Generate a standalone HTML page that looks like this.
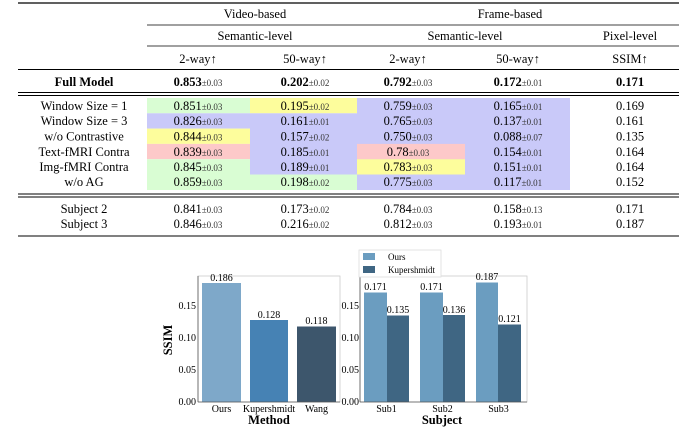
<!DOCTYPE html>
<html><head><meta charset="utf-8"><style>
html,body{margin:0;padding:0;background:#fff;}
svg{display:block;font-family:"Liberation Serif",serif;}
</style></head><body>
<svg width="679" height="430" viewBox="0 0 679 430" xmlns="http://www.w3.org/2000/svg">
<g>
<rect x="147" y="98" width="103" height="15.3" fill="#d9fdd3"/>
<rect x="250" y="98" width="107" height="15.3" fill="#fdfd9c"/>
<rect x="357" y="98" width="213" height="92" fill="#c9c9f9"/>
<rect x="147" y="113.3" width="103" height="15.3" fill="#c9c9f9"/>
<rect x="250" y="113.3" width="107" height="61.2" fill="#c9c9f9"/>
<rect x="147" y="128.6" width="103" height="15.3" fill="#fdfd9c"/>
<rect x="147" y="143.9" width="103" height="15.3" fill="#fdc9c9"/>
<rect x="357" y="143.9" width="108" height="15.3" fill="#fdc9c9"/>
<rect x="147" y="159.2" width="103" height="30.8" fill="#d9fdd3"/>
<rect x="357" y="159.2" width="108" height="15.3" fill="#fdfd9c"/>
<rect x="250" y="174.5" width="107" height="15.5" fill="#d9fdd3"/>
</g>
<g stroke="#000">
<line x1="18" y1="3" x2="679" y2="3" stroke-width="1.2"/>
<line x1="147" y1="25" x2="679" y2="25" stroke-width="0.8"/>
<line x1="147" y1="46" x2="679" y2="46" stroke-width="0.8"/>
<line x1="18" y1="69.5" x2="679" y2="69.5" stroke-width="1"/>
<line x1="18" y1="92.5" x2="679" y2="92.5" stroke-width="1"/>
<line x1="18" y1="95.5" x2="679" y2="95.5" stroke-width="1"/>
<line x1="18" y1="194" x2="679" y2="194" stroke-width="1"/>
<line x1="18" y1="197" x2="679" y2="197" stroke-width="1"/>
<line x1="18" y1="236" x2="679" y2="236" stroke-width="1"/>
</g>
<g font-size="12.5" text-anchor="middle" fill="#000">
<text x="255" y="18">Video-based</text>
<text x="510" y="18">Frame-based</text>
<text x="255" y="40">Semantic-level</text>
<text x="465" y="40">Semantic-level</text>
<text x="630" y="40">Pixel-level</text>
<text x="198" y="63">2-way↑</text>
<text x="305" y="63">50-way↑</text>
<text x="408" y="63">2-way↑</text>
<text x="518" y="63">50-way↑</text>
<text x="630" y="63">SSIM↑</text>
<g font-weight="bold"><text x="84" y="86">Full Model</text><text x="630" y="86">0.171</text></g>
<text x="198" y="86"><tspan font-weight="bold">0.853</tspan><tspan font-size="9" fill="#333">±0.03</tspan></text>
<text x="305" y="86"><tspan font-weight="bold">0.202</tspan><tspan font-size="9" fill="#333">±0.02</tspan></text>
<text x="408" y="86"><tspan font-weight="bold">0.792</tspan><tspan font-size="9" fill="#333">±0.03</tspan></text>
<text x="518" y="86"><tspan font-weight="bold">0.172</tspan><tspan font-size="9" fill="#333">±0.01</tspan></text>
</g>
<g font-size="12.5" text-anchor="middle" fill="#000">
<text x="84" y="110">Window Size = 1</text>
<text x="198" y="110">0.851<tspan font-size="9" fill="#333">±0.03</tspan></text>
<text x="305" y="110">0.195<tspan font-size="9" fill="#333">±0.02</tspan></text>
<text x="408" y="110">0.759<tspan font-size="9" fill="#333">±0.03</tspan></text>
<text x="518" y="110">0.165<tspan font-size="9" fill="#333">±0.01</tspan></text>
<text x="630" y="110">0.169</text>
<text x="84" y="125">Window Size = 3</text>
<text x="198" y="125">0.826<tspan font-size="9" fill="#333">±0.03</tspan></text>
<text x="305" y="125">0.161<tspan font-size="9" fill="#333">±0.01</tspan></text>
<text x="408" y="125">0.765<tspan font-size="9" fill="#333">±0.03</tspan></text>
<text x="518" y="125">0.137<tspan font-size="9" fill="#333">±0.01</tspan></text>
<text x="630" y="125">0.161</text>
<text x="84" y="140.5">w/o Contrastive</text>
<text x="198" y="140.5">0.844<tspan font-size="9" fill="#333">±0.03</tspan></text>
<text x="305" y="140.5">0.157<tspan font-size="9" fill="#333">±0.02</tspan></text>
<text x="408" y="140.5">0.750<tspan font-size="9" fill="#333">±0.03</tspan></text>
<text x="518" y="140.5">0.088<tspan font-size="9" fill="#333">±0.07</tspan></text>
<text x="630" y="140.5">0.135</text>
<text x="84" y="156">Text-fMRI Contra</text>
<text x="198" y="156">0.839<tspan font-size="9" fill="#333">±0.03</tspan></text>
<text x="305" y="156">0.185<tspan font-size="9" fill="#333">±0.01</tspan></text>
<text x="408" y="156">0.78<tspan font-size="9" fill="#333">±0.03</tspan></text>
<text x="518" y="156">0.154<tspan font-size="9" fill="#333">±0.01</tspan></text>
<text x="630" y="156">0.164</text>
<text x="84" y="171">Img-fMRI Contra</text>
<text x="198" y="171">0.845<tspan font-size="9" fill="#333">±0.03</tspan></text>
<text x="305" y="171">0.189<tspan font-size="9" fill="#333">±0.01</tspan></text>
<text x="408" y="171">0.783<tspan font-size="9" fill="#333">±0.03</tspan></text>
<text x="518" y="171">0.151<tspan font-size="9" fill="#333">±0.01</tspan></text>
<text x="630" y="171">0.164</text>
<text x="84" y="186">w/o AG</text>
<text x="198" y="186">0.859<tspan font-size="9" fill="#333">±0.03</tspan></text>
<text x="305" y="186">0.198<tspan font-size="9" fill="#333">±0.02</tspan></text>
<text x="408" y="186">0.775<tspan font-size="9" fill="#333">±0.03</tspan></text>
<text x="518" y="186">0.117<tspan font-size="9" fill="#333">±0.01</tspan></text>
<text x="630" y="186">0.152</text>
<text x="84" y="213">Subject 2</text>
<text x="198" y="213">0.841<tspan font-size="9" fill="#333">±0.03</tspan></text>
<text x="305" y="213">0.173<tspan font-size="9" fill="#333">±0.02</tspan></text>
<text x="408" y="213">0.784<tspan font-size="9" fill="#333">±0.03</tspan></text>
<text x="518" y="213">0.158<tspan font-size="9" fill="#333">±0.13</tspan></text>
<text x="630" y="213">0.171</text>
<text x="84" y="228">Subject 3</text>
<text x="198" y="228">0.846<tspan font-size="9" fill="#333">±0.03</tspan></text>
<text x="305" y="228">0.216<tspan font-size="9" fill="#333">±0.02</tspan></text>
<text x="408" y="228">0.812<tspan font-size="9" fill="#333">±0.03</tspan></text>
<text x="518" y="228">0.193<tspan font-size="9" fill="#333">±0.01</tspan></text>
<text x="630" y="228">0.187</text>
</g>
<g>
<rect x="198" y="276" width="142" height="126" fill="none" stroke="#ccc" stroke-width="0.8"/>
<rect x="202" y="283" width="39" height="119" fill="#7ea8c9"/>
<rect x="250" y="320" width="38" height="82" fill="#4682b4"/>
<rect x="297" y="326.5" width="39" height="75.5" fill="#3d566c"/>
<line x1="198" y1="276" x2="198" y2="402" stroke="#555" stroke-width="0.8"/>
<line x1="198" y1="402" x2="340" y2="402" stroke="#555" stroke-width="0.8"/>
<rect x="360" y="276" width="167" height="126" fill="none" stroke="#ccc" stroke-width="0.8"/>
<rect x="364" y="292.5" width="23" height="109.5" fill="#6b9dc0"/>
<rect x="387" y="315.5" width="22" height="86.5" fill="#3f6683"/>
<rect x="420" y="292.5" width="23" height="109.5" fill="#6b9dc0"/>
<rect x="443" y="315" width="22" height="87" fill="#3f6683"/>
<rect x="476" y="282.5" width="22" height="119.5" fill="#6b9dc0"/>
<rect x="498" y="324.5" width="23" height="77.5" fill="#3f6683"/>
<line x1="360" y1="276" x2="360" y2="402" stroke="#555" stroke-width="0.8"/>
<line x1="360" y1="402" x2="527" y2="402" stroke="#555" stroke-width="0.8"/>
<rect x="359" y="250" width="82" height="27" fill="#fff" stroke="#ddd" stroke-width="0.8"/>
<rect x="363" y="253" width="12" height="7" fill="#6b9dc0"/>
<rect x="363" y="266" width="12" height="7" fill="#3f6683"/>
<g font-size="9" fill="#000"><text x="388" y="260">Ours</text><text x="388" y="273">Kupershmidt</text></g>
<g font-size="10" fill="#000" text-anchor="end">
<text x="196" y="405">0.00</text><text x="196" y="373">0.05</text><text x="196" y="341">0.10</text><text x="196" y="309">0.15</text>
<text x="359" y="405">0.00</text><text x="359" y="373">0.05</text><text x="359" y="341">0.10</text><text x="359" y="309">0.15</text>
</g>
<g font-size="10" fill="#000" text-anchor="middle">
<text x="221.5" y="281">0.186</text><text x="269" y="318">0.128</text><text x="316.5" y="324">0.118</text>
<text x="375.5" y="290">0.171</text><text x="398" y="313">0.135</text>
<text x="431.5" y="290">0.171</text><text x="454" y="313">0.136</text>
<text x="487" y="280">0.187</text><text x="509.5" y="322">0.121</text>
<text x="221.5" y="412">Ours</text><text x="269" y="412">Kupershmidt</text><text x="316.5" y="412">Wang</text>
<text x="386.5" y="412">Sub1</text><text x="442.5" y="412">Sub2</text><text x="498.5" y="412">Sub3</text>
</g>
<g font-size="12.5" font-weight="bold" fill="#000" text-anchor="middle">
<text x="269" y="424">Method</text><text x="442" y="424">Subject</text>
<text transform="translate(172,340) rotate(-90)">SSIM</text>
</g>
</g>
</svg>
</body></html>
